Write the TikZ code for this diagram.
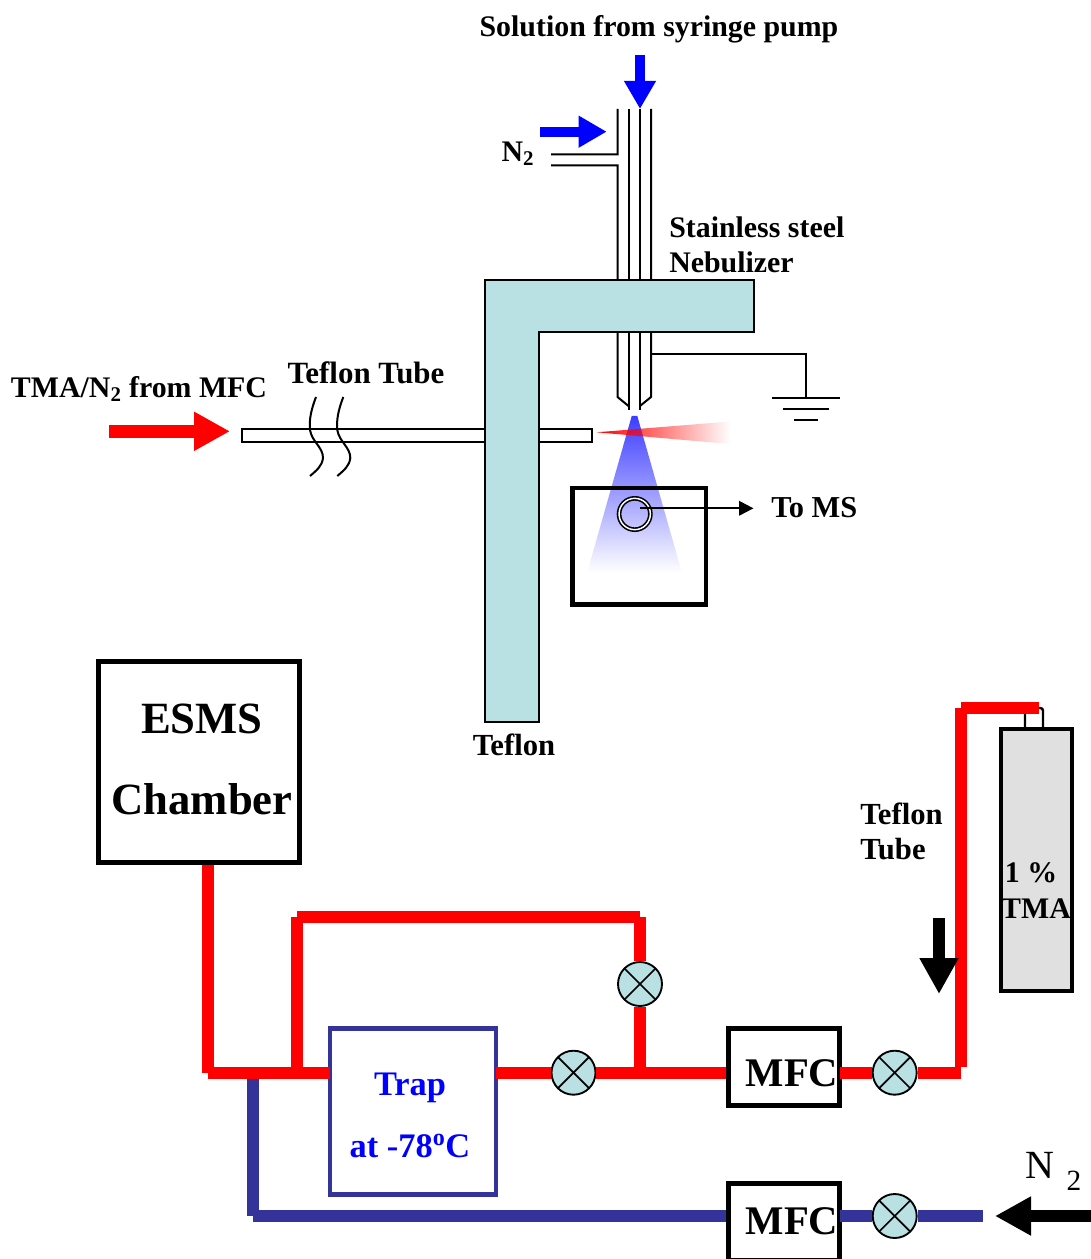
\documentclass[tikz,border=0pt]{standalone}
\usepackage{fontspec}
\setmainfont{Liberation Serif}
\usetikzlibrary{arrows.meta,fadings}
\definecolor{Teflon}{HTML}{B9E0E2}
\definecolor{Navy}{HTML}{333399}
\definecolor{Cyl}{HTML}{E0E0E0}
\definecolor{Spray}{HTML}{3333FF}
\tikzset{
  lbl/.style={font=\fontsize{#1}{26}\selectfont\bfseries,inner sep=0pt},
  lbl/.default=22.4,
  bigbox/.style={draw,line width=3.4pt,inner sep=0pt},
  valve/.style={circle,draw,line width=1.4pt,fill=Teflon,minimum size=33pt,inner sep=0pt,
    path picture={\draw[line width=1.3pt] ([shift={(-20pt,20pt)}]path picture bounding box.center)--([shift={(20pt,-20pt)}]path picture bounding box.center) ([shift={(20pt,20pt)}]path picture bounding box.center)--([shift={(-20pt,-20pt)}]path picture bounding box.center);}},
  redtube/.style={draw=red,line width=9pt},
  bluetube/.style={draw=Navy,line width=9pt},
  thintube/.style={line width=1.5pt},
  smallflow/.style={line width=7.5pt,-{Triangle[length=21pt,width=22.5pt]}},
  bigflow/.style={line width=9.3pt,-{Triangle[length=27pt,width=27.5pt]}}
}
\tikzfading[name=fade spray,top color=transparent!5,bottom color=transparent!100]
\tikzfading[name=fade jet,left color=transparent!0,right color=transparent!100]
\begin{document}
\begin{tikzpicture}[x=0.75pt,y=-0.75pt]
\useasboundingbox (0,0) rectangle (1091,1259);
% nebulizer
\draw[thintube] (617.5,109)--(617.5,154.5)--(551,154.5) (551,165.5)--(617.5,165.5)--(617.5,397)--(628.5,406);
\draw[thintube] (651,109)--(651,397)--(640,406);
\foreach \x in {628.5,639.7}{\draw[thintube] (\x,109)--(\x,410);}
% teflon tube and holder
\node[draw,thintube,minimum width=262.5pt,minimum height=9.5pt,inner sep=0pt] (tube) at (416.5,435.5) {};
\filldraw[fill=Teflon,thintube] (484.5,279.5)--(754,279.5)--(754,332)--(538.5,332)--(538.5,722)--(484.5,722)--cycle;
\foreach \x in {0,27.3}{\draw[thintube] (316+\x,397) .. controls (311+\x,410) and (309+\x,420) .. (310+\x,430) .. controls (312+\x,442) and (323+\x,447) .. (323+\x,458) .. controls (322+\x,466) and (317+\x,470) .. (310+\x,476);}
% ground
\draw[thintube] (651,353.5)--(806.3,353.5)--(806.3,397.7) (772.3,397.7)--(840,397.7) (783.3,409)--(829,409) (794.3,419.7)--(817.7,419.7);
% spray, jet and interface
\fill[Spray,path fading=fade spray] (631.7,416)--(637.3,416)--(681.7,572)--(587.3,572)--cycle;
\fill[red,path fading=fade jet] (596.7,432.3)--(730,421.5)--(730,444)--cycle;
\node[bigbox,minimum width=100.3pt,minimum height=87.4pt] (msbox) at (639.2,546.2) {};
\node[circle,draw,line width=1.2pt,double,double distance=1.1pt,minimum size=23.5pt,inner sep=0pt] (orifice) at (634.7,514) {};
\coordinate (orout) at (639.7,508.3);
\node[lbl=22.8,anchor=west] (toms) at (771,507.5) {To MS};
\coordinate (omstip) at (753.5,508.3);
\draw[thintube,-{Triangle[length=10.7pt,width=10.7pt]}] (orout)--(omstip);
% inlet arrows
\coordinate (pumpin) at (640,55);
\coordinate (pumptip) at (640,109);
\draw[blue,smallflow] (pumpin)--(pumptip);
\coordinate (nin) at (540,131.7);
\coordinate (ntip) at (606.7,131.7);
\draw[blue,smallflow] (nin)--(ntip);
\coordinate (tmain) at (109.3,431.3);
\coordinate (tmatip) at (230,431.3);
\draw[red,bigflow] (tmain)--(tmatip);
% labels
\node[lbl] (soln) at (659,29) {Solution from syringe pump};
\node[lbl] (ntop) at (518,154) {N\textsubscript{2}};
\node[lbl,align=left,anchor=north west] (neb) at (669,217) {Stainless steel\\Nebulizer};
\node[lbl] (tmalbl) at (139,389) {TMA/N\textsubscript{2} from MFC};
\node[lbl=23.2] (tubelbl) at (366,373) {Teflon Tube};
\node[lbl=23] (tefl) at (514,745) {Teflon};
% lower boxes
\node[bigbox,minimum width=151pt,minimum height=151pt] (esms) at (199,762) {};
\node[font=\fontsize{33.5}{36}\selectfont\bfseries] (esmsa) at (202,719) {ESMS};
\node[font=\fontsize{33.5}{36}\selectfont\bfseries] (esmsb) at (202,799) {Chamber};
\node[draw=Navy,line width=3.4pt,outer sep=0pt,inner sep=0pt,minimum width=124.5pt,minimum height=124.5pt] (trap) at (413,1111.3) {};
\node[text=blue,font=\fontsize{25.8}{28}\selectfont\bfseries] (trapa) at (410,1088) {Trap};
\node[text=blue,font=\fontsize{25.8}{28}\selectfont\bfseries] (trapb) at (410,1146) {at -78\textsuperscript{o}C};
\node[bigbox,minimum width=83pt,minimum height=58pt] (mfca) at (784,1067) {};
\node[bigbox,minimum width=83pt,minimum height=58pt] (mfcb) at (784,1222) {};
\node[valve] (va) at (573.5,1072.7) {};
\node[valve] (vb) at (640,984) {};
\node[valve] (vc) at (894.7,1072.7) {};
\node[valve] (vd) at (894.7,1216) {};
% tubing
\coordinate (jA) at (208,1072.7);
\coordinate (jB) at (297,1072.7);
\coordinate (jC) at (252.5,1072.7);
\coordinate (jD) at (640,1072.7);
\coordinate (jE) at (640,917);
\coordinate (jF) at (297,917);
\coordinate (jG) at (961,1072.7);
\coordinate (jH) at (961,707.7);
\coordinate (jI) at (1038.7,707.7);
\coordinate (jJ) at (252.5,1216);
\coordinate (n2end) at (983,1216);
\draw[bluetube] (jC)--(jJ);
\draw[bluetube] (jJ)--(mfcb.west|-jJ);
\draw[bluetube] ([xshift=-1.2pt]mfcb.east|-jJ)--(vd.west);
\draw[bluetube] (vd.east)--(n2end);
\draw[redtube] (esms.south-|jA)--(jA);
\draw[redtube] (jA)--(trap.west|-jA);
\draw[redtube] (jB)--(jF);
\draw[redtube] (jF)--(jE);
\draw[redtube] (jE)--(vb.north);
\draw[redtube] (vb.south)--(jD);
\draw[redtube] (trap.east|-jD)--(va.west);
\draw[redtube] (va.east)--(mfca.west|-jD);
\draw[redtube] ([xshift=-1.2pt]mfca.east|-jD)--(vc.west);
\draw[redtube] (vc.east)--(jG);
\draw[redtube] ([yshift=4.5pt]jG)--(jH);
% cylinder
\node[draw,line width=3pt,fill=Cyl,minimum width=53pt,minimum height=196pt,inner sep=0pt] (cyl) at (1036.7,860) {};
\draw[line width=1.8pt,rounded corners=2pt] (1025,727)--(1025,708)--(1043,708)--(1043,727);
\draw[redtube] (jH)--(jI);
\node[lbl] (cyla) at (1031,873) {1 \%};
\node[lbl] (cylb) at (1036,909) {TMA};
\node[lbl=23,align=left,anchor=north west] (teft) at (860,803) {Teflon\\Tube};
\node[font=\fontsize{30.5}{32}\selectfont\bfseries] (mfcat) at (792,1073) {MFC};
\node[font=\fontsize{30.5}{32}\selectfont\bfseries] (mfcbt) at (792,1221) {MFC};
% black arrows
\coordinate (dnin) at (939,918);
\coordinate (dntip) at (939,994);
\draw[bigflow] (dnin)--(dntip);
\coordinate (n2in) at (1091,1216);
\coordinate (n2tip) at (995,1216);
\draw[bigflow] (n2in)--(n2tip);
\node[font=\fontsize{30}{32}\selectfont] (nbig) at (1040,1165) {N};
\node[font=\fontsize{22}{24}\selectfont] (ntwo) at (1074,1181) {2};
\end{tikzpicture}
\end{document}
